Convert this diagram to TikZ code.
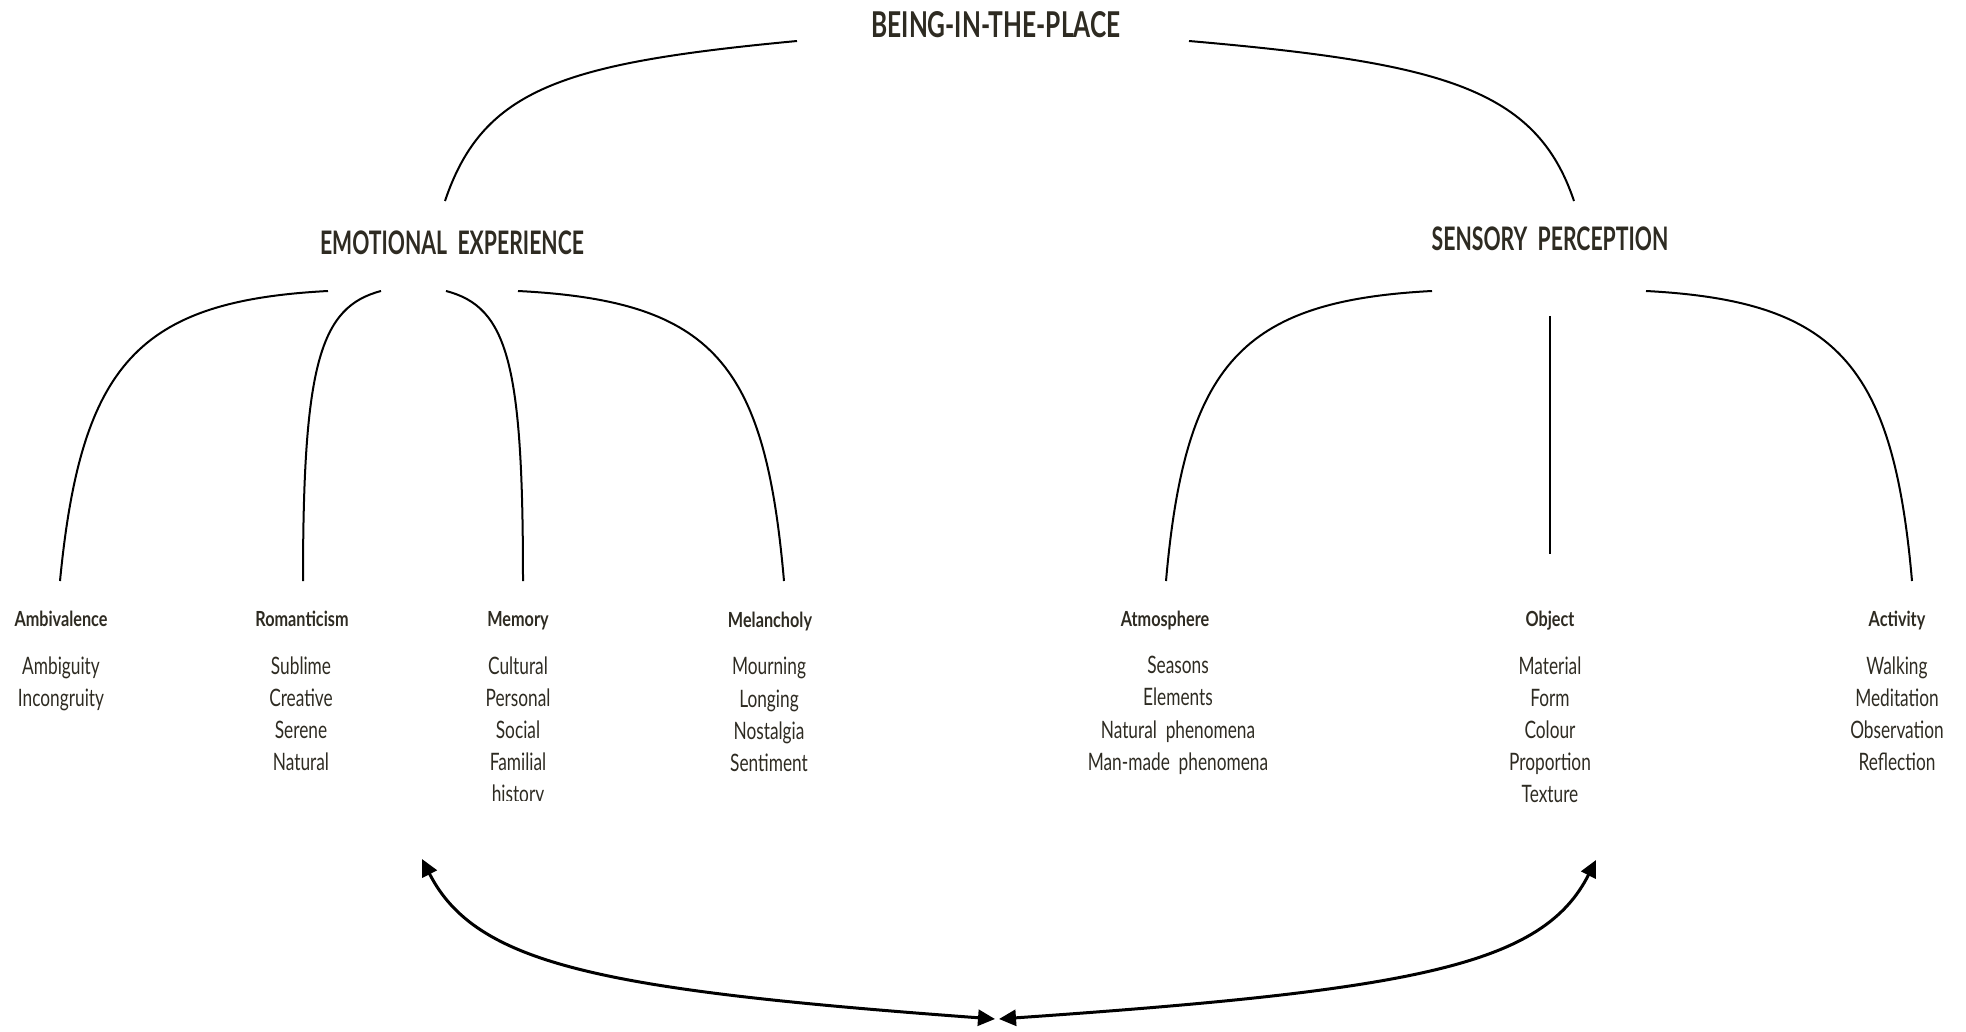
\documentclass[tikz,border=0pt]{standalone}
\usepackage{fontspec}
\setmainfont{Lato}
\newfontfamily\titlefont[FakeStretch=0.69]{Lato}
\newfontfamily\headfont[FakeStretch=0.655]{Lato}
\newfontfamily\labfont[FakeStretch=0.78]{Lato}
\newfontfamily\itemfont[FakeStretch=0.72]{Lato}
\usetikzlibrary{arrows.meta}
\definecolor{ink}{HTML}{2E2B22}
\tikzset{
  branch/.style={line width=1pt, black},
  link/.style={line width=1.5pt, black, {Triangle[length=8.5pt,width=8pt]}-{Triangle[length=8.5pt,width=8pt]}},
  title/.style={text=ink, inner sep=0pt, anchor=base, font=\titlefont\bfseries\fontsize{17.8}{20}\selectfont},
  heading/.style={text=ink, inner sep=0pt, anchor=base, font=\headfont\bfseries\fontsize{16.2}{19}\selectfont},
  label/.style={text=ink, inner sep=0pt, anchor=base, font=\labfont\bfseries\fontsize{10.4}{12}\selectfont},
  % lists hang from the top of their first line (a 12pt strut fixes that top)
  items/.style={text=ink, inner sep=0pt, anchor=north, align=center,
    font=\itemfont\fontsize{12}{16.1}\selectfont,
    execute at begin node={\rule{0pt}{12pt}}},
}
\begin{document}
\begin{tikzpicture}[x=0.5pt, y=-0.5pt]
\useasboundingbox (0,0) rectangle (1966,1032);

% headings
\node[title]   (place)   at (996,38)  {BEING-IN-THE-PLACE};
\node[heading] (emotion) at (452,255) {EMOTIONAL\ \ EXPERIENCE};
\node[heading] (sense)   at (1550,251) {SENSORY\ \ PERCEPTION};

% category labels
\node[label] (amb) at (61,626)   {Ambivalence};
\node[label] (rom) at (302,626)  {Romanticism};
\node[label] (mem) at (518,626)  {Memory};
\node[label] (mel) at (770,627)  {Melancholy};
\node[label] (atm) at (1165,626) {Atmosphere};
\node[label] (obj) at (1550,626) {Object};
\node[label] (act) at (1897,626) {Activity};

% item lists
\node[items] (amb-i) at (61,656)   {Ambiguity\\Incongruity};
\node[items] (rom-i) at (301,656)  {Sublime\\Creative\\Serene\\Natural};
\begin{scope}
  \clip (440,640) rectangle (600,800);
  \node[items] (mem-i) at (518,656) {Cultural\\Personal\\Social\\Familial\\history};
\end{scope}
\node[items] (mel-i) at (769,657)  {Mourning\\Longing\\Nostalgia\\Sentiment};
\node[items] (atm-i) at (1178,656) {Seasons\\Elements\\Natural\ \ phenomena\\Man-made\ \ phenomena};
\node[items] (obj-i) at (1550,656) {Material\\Form\\Colour\\Proportion\\Texture};
\node[items] (act-i) at (1897,656) {Walking\\Meditation\\Observation\\Reflection};

% branch end points
\coordinate (top-l) at (797,41);
\coordinate (top-r) at (1189,41);
\coordinate (emo-up) at (445,201);
\coordinate (sen-up) at (1574,201);

\coordinate (e1) at (328,291);  \coordinate (amb-up) at (60,581);
\coordinate (e2) at (381,291);  \coordinate (rom-up) at (303,581);
\coordinate (e3) at (446,291);  \coordinate (mem-up) at (523,581);
\coordinate (e4) at (518,291);  \coordinate (mel-up) at (784,581);

\coordinate (s1) at (1432,291); \coordinate (atm-up) at (1166,581);
\coordinate (s2) at (1550,316); \coordinate (obj-up) at (1550,554);
\coordinate (s3) at (1646,291); \coordinate (act-up) at (1912,581);

% top level branches
\draw[branch] (top-l) .. controls (564,63) and (483,88) .. (emo-up);
\draw[branch] (top-r) .. controls (1442,63) and (1536,88) .. (sen-up);

% emotional experience branches
\draw[branch] (e1) .. controls (138,301) and (81,364) .. (amb-up);
\draw[branch] (e2) .. controls (320,307) and (303,364) .. (rom-up);
\draw[branch] (e3) .. controls (508,307) and (523,364) .. (mem-up);
\draw[branch] (e4) .. controls (715,301) and (765,364) .. (mel-up);

% sensory perception branches
\draw[branch] (s1) .. controls (1241,301) and (1185,364) .. (atm-up);
\draw[branch] (s2) -- (obj-up);
\draw[branch] (s3) .. controls (1837,301) and (1893,364) .. (act-up);

% reciprocal link at the bottom
\coordinate (lk-l) at (422,859);
\coordinate (lk-r) at (1596,860);
\coordinate (lk-ml) at (995,1019);
\coordinate (lk-mr) at (999,1019);
\draw[link] (lk-l) .. controls (476,965) and (602,990) .. (lk-ml);
\draw[link] (lk-r) .. controls (1543,965) and (1418,990) .. (lk-mr);
\end{tikzpicture}
\end{document}
